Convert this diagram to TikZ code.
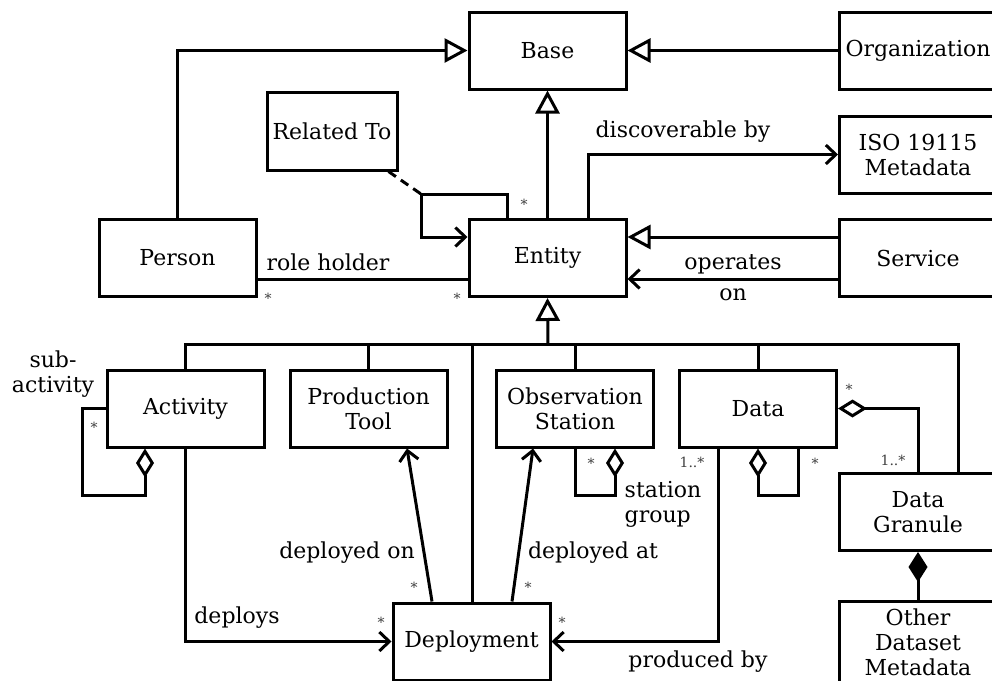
\documentclass[tikz,border=0pt]{standalone}
\usepackage{fontspec}
\setmainfont{DejaVu Serif}
\usetikzlibrary{arrows.meta,calc}
\begin{document}
\begin{tikzpicture}[x=1pt,y=-1pt,
  every node/.style={font=\fontsize{22}{25}\selectfont},
  box/.style={draw,line width=3pt,minimum width=157pt,minimum height=77pt,inner sep=0pt,align=center},
  ln/.style={line width=3pt},
  gen/.style={ln,-{Triangle[open,length=23pt,width=24pt,fill=white]}},
  nav/.style={ln,-{Straight Barb[length=10pt,width=19pt]}},
  agg/.style={ln,{Diamond[open,length=29pt,width=18pt,fill=white]}-},
  comp/.style={ln,{Diamond[length=30pt,width=19pt]}-},
  lbl/.style={inner sep=0pt,align=center},
  mult/.style={inner sep=0pt,font=\fontsize{14}{15}\selectfont,text=black!75}
]
\useasboundingbox (0,0) rectangle (992,680);
% nodes
\node[box] (base) at (547.5,50.5) {Base};
\node[box] (org) at (918,50.5) {Organization};
\node[box] (iso) at (918,154.5) {ISO 19115\\Metadata};
\node[box] (service) at (918,258) {Service};
\node[box] (entity) at (547.5,258) {Entity};
\node[box] (person) at (177.5,258) {Person};
\node[box,minimum width=130pt,minimum height=78pt] (rel) at (332,131) {Related To};
\node[box] (activity) at (185.5,408.5) {Activity};
\node[box] (tool) at (368.5,408.5) {Production\\Tool};
\node[box] (station) at (575,408.5) {Observation\\Station};
\node[box] (data) at (758,408.5) {Data};
\node[box] (granule) at (918,512) {Data\\Granule};
\node[box] (deploy) at (471.5,641.5) {Deployment};
\node[box,minimum height=82pt] (other) at (918,642) {Other\\Dataset\\Metadata};
% top part
\draw[gen] (person.north) |- (base.west);
\draw[gen] (org.west) -- (base.east);
\draw[gen] (entity.north) -- (base.south);
\draw[nav] ([xshift=40.5pt]entity.north) |- (iso.west);
\node[lbl] (ldisc) at (683,132) {discoverable by};
\coordinate (eloop) at (421,194);
\draw[ln,dashed,dash pattern=on 9pt off 6pt] ([xshift=-10pt]rel.south east) -- (eloop);
\draw[nav] ([xshift=-40.5pt]entity.north) |- (eloop) |- ([yshift=21pt]entity.west);
\node[mult] (m1) at (524,204) {*};
\draw[gen] ([yshift=21pt]service.west) -- ([yshift=21pt]entity.east);
\draw[nav] ([yshift=-21pt]service.west) -- ([yshift=-21pt]entity.east);
\node[lbl] (lop1) at (733,264) {operates};
\node[lbl] (lop2) at (733,295) {on};
\draw[ln] ([yshift=-21pt]person.east) -- ([yshift=-21pt]entity.west);
\node[lbl] (lrole) at (328,262) {role holder};
\node[mult] (m2) at (268,298) {*};
\node[mult] (m3) at (457,298) {*};
% generalisation bus
\coordinate (bus) at (548,344);
\draw[gen] (bus) -- (entity.south);
\draw[ln] (activity.north) |- (bus);
\draw[ln] (tool.north) |- (bus);
\draw[ln] (station.north) |- (bus);
\draw[ln] (data.north) |- (bus);
\draw[ln] ([xshift=0.5pt]deploy.north) |- (bus);
\draw[ln] ([xshift=40pt]granule.north) |- (bus);
% activity
\coordinate (aloop) at (82,495);
\draw[agg] ([xshift=-40.5pt]activity.south) |- (aloop) |- (activity.west);
\node[mult] (m4) at (94,427) {*};
\node[lbl] (lsub) at (53,374) {sub-\\activity};
\draw[nav] (activity.south) |- (deploy.west);
\node[lbl] (ldeploys) at (237,618) {deploys};
\node[mult] (m5) at (381,622) {*};
% deployed on / at
\draw[nav] ([xshift=-39.5pt]deploy.north) -- ([xshift=38.5pt]tool.south);
\node[lbl] (lon) at (347,553) {deployed on};
\node[mult] (m6) at (414,587) {*};
\draw[nav] ([xshift=40.5pt]deploy.north) -- ([xshift=-42pt]station.south);
\node[lbl] (lat) at (593,553) {deployed at};
\node[mult] (m7) at (528,587) {*};
% station group
\coordinate (sloop) at (575,495);
\draw[agg] ([xshift=40pt]station.south) |- (sloop) -- (station.south);
\node[mult] (m8) at (591,463) {*};
\node[lbl,align=left] (lgroup) at (663,504) {station\\group};
% data self loop
\coordinate (dloop) at (798,495);
\draw[agg] (data.south) |- (dloop) -- ([xshift=40pt]data.south);
\node[mult] (m9) at (815,463) {*};
% produced by
\draw[nav] ([xshift=-40pt]data.south) |- (deploy.east);
\node[mult] (m10) at (692,462) {1..*};
\node[mult] (m11) at (562,622) {*};
\node[lbl] (lprod) at (698,662) {produced by};
% granule
\draw[agg] (data.east) -| (granule.north);
\node[mult] (m12) at (849,389) {*};
\node[mult] (m13) at (893,460) {1..*};
\draw[comp] (granule.south) -- (other.north);
\end{tikzpicture}
\end{document}
